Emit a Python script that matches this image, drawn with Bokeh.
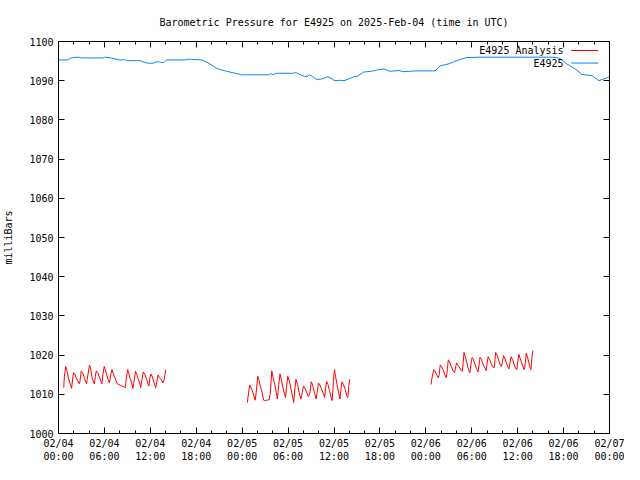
from datetime import datetime, timedelta

from bokeh.plotting import figure
from bokeh.models import (Range1d, FixedTicker, DatetimeTickFormatter, DatetimeAxis,
                          LinearAxis, Label, Arrow, CustomJSTickFormatter)
from bokeh.embed import file_html
from bokeh.resources import INLINE

# ---------------- data ----------------
TITLE = "Barometric Pressure for E4925 on 2025-Feb-04 (time in UTC)"
Y_LABEL = "milliBars"
START = datetime(2025, 2, 4, 0, 0)
END = datetime(2025, 2, 7, 0, 0)
SERIES_NAMES = ["E4925 Analysis", "E4925"]
Y_TICKS = [1000, 1010, 1020, 1030, 1040, 1050, 1060, 1070, 1080, 1090, 1100]

# Station series (hours after START, millibars)
station_hours = [0.0, 1.3, 1.45, 2.0, 2.6,
                 3.0, 5.8, 6.0, 6.9, 7.5,
                 7.9, 8.5, 8.6, 8.9, 10.7,
                 11.2, 11.9, 12.4, 12.8, 13.2,
                 13.5, 13.8, 14.1, 16.5, 17.0,
                 17.7, 18.6, 19.0, 19.4, 20.0,
                 20.6, 21.2, 21.8, 22.4, 23.1,
                 23.9, 27.5, 27.7, 28.0, 28.4,
                 30.7, 31.0, 31.5, 32.1, 32.5,
                 32.8, 33.2, 33.7, 34.3, 34.8,
                 35.2, 35.6, 36.1, 36.8, 37.3,
                 38.0, 38.6, 39.0, 39.9, 41.2,
                 41.8, 42.5, 43.3, 44.5, 45.0,
                 45.9, 46.7, 49.2, 49.9, 51.0,
                 51.6, 52.3, 53.3, 55.2, 64.6,
                 65.5, 66.4, 67.6, 68.4, 69.7,
                 70.6, 71.5, 72.0]
station_mb = [1095.3, 1095.3, 1095.7, 1095.9, 1096.0,
              1095.8, 1095.8, 1096.0, 1095.8, 1095.5,
              1095.3, 1095.3, 1095.5, 1095.1, 1095.1,
              1094.7, 1094.4, 1094.5, 1094.8, 1094.8,
              1094.6, 1094.7, 1095.3, 1095.3, 1095.5,
              1095.4, 1095.3, 1095.1, 1094.7, 1094.0,
              1093.2, 1092.8, 1092.5, 1092.2, 1091.9,
              1091.5, 1091.5, 1091.9, 1091.5, 1091.9,
              1091.9, 1092.1, 1091.6, 1091.1, 1091.1,
              1091.5, 1091.1, 1090.3, 1090.4, 1090.7,
              1091.0, 1090.6, 1090.0, 1090.1, 1090.0,
              1090.5, 1091.0, 1091.1, 1092.2, 1092.5,
              1092.8, 1093.0, 1092.4, 1092.6, 1092.3,
              1092.4, 1092.5, 1092.5, 1093.8, 1094.3,
              1094.8, 1095.3, 1095.9, 1096.0, 1096.0,
              1095.7, 1094.3, 1092.9, 1091.6, 1091.3,
              1090.0, 1090.6, 1091.0]

# Analysis series, three runs (hours after START, millibars)
analysis1_hours = [0.68, 0.77, 0.94, 1.07, 1.28,
                   1.49, 1.62, 1.71, 1.79, 1.96,
                   2.13, 2.34, 2.56, 2.73, 2.81,
                   2.98, 3.20, 3.41, 3.67, 3.75,
                   4.05, 4.18, 4.39, 4.60, 4.69,
                   4.82, 4.94, 5.12, 5.46, 5.67,
                   5.80, 5.97, 6.10, 6.31, 6.48,
                   6.65, 6.82, 6.99, 7.16, 7.46,
                   7.67, 8.10, 8.53, 8.74, 8.87,
                   9.04, 9.16, 9.38, 9.59, 9.72,
                   9.89, 10.06, 10.23, 10.44, 10.66,
                   10.74, 10.91, 11.08, 11.30, 11.51,
                   11.72, 11.81, 11.94, 12.06, 12.28,
                   12.49, 12.70, 12.87, 13.00, 13.21,
                   13.43, 13.64, 13.81, 13.90, 14.02]
analysis1_mb = [1011.7, 1014.6, 1017.1, 1016.3, 1014.2,
                1012.9, 1012.1, 1011.5, 1012.9, 1015.5,
                1015.2, 1014.0, 1013.2, 1012.7, 1013.4,
                1015.9, 1015.2, 1014.0, 1012.7, 1013.8,
                1017.5, 1016.7, 1014.2, 1012.9, 1012.7,
                1014.6, 1016.0, 1015.5, 1013.8, 1012.7,
                1015.0, 1017.1, 1016.3, 1014.9, 1013.8,
                1012.9, 1015.0, 1016.3, 1015.2, 1013.8,
                1012.7, 1012.3, 1011.9, 1011.7, 1014.2,
                1016.3, 1015.5, 1014.0, 1012.7, 1011.5,
                1013.4, 1015.9, 1015.0, 1013.8, 1012.5,
                1011.7, 1013.8, 1015.7, 1015.0, 1013.8,
                1012.5, 1012.1, 1014.2, 1015.2, 1014.4,
                1012.9, 1011.7, 1013.4, 1014.9, 1014.2,
                1013.8, 1012.9, 1013.8, 1014.9, 1016.3]

analysis2_hours = [24.68, 24.76, 24.98, 25.10, 25.32,
                   25.53, 25.70, 25.83, 26.04, 26.17,
                   26.38, 26.60, 26.81, 26.89, 27.53,
                   27.66, 27.87, 28.04, 28.26, 28.47,
                   28.60, 28.73, 28.94, 29.11, 29.32,
                   29.54, 29.66, 29.79, 29.96, 30.18,
                   30.39, 30.60, 30.73, 30.86, 31.03,
                   31.24, 31.45, 31.67, 31.80, 32.01,
                   32.22, 32.44, 32.65, 32.86, 33.03,
                   33.20, 33.50, 33.67, 33.80, 33.97,
                   34.14, 34.35, 34.57, 34.78, 34.91,
                   35.04, 35.21, 35.42, 35.63, 35.76,
                   35.93, 36.06, 36.19, 36.40, 36.61,
                   36.78, 36.91, 37.04, 37.21, 37.46,
                   37.68, 37.81, 37.93, 38.06]
analysis2_mb = [1007.9, 1009.2, 1012.4, 1011.9, 1010.9,
                1009.6, 1008.5, 1010.4, 1014.6, 1013.8,
                1012.1, 1010.4, 1008.5, 1008.4, 1008.6,
                1010.0, 1016.0, 1014.2, 1012.5, 1010.4,
                1008.8, 1011.3, 1015.2, 1013.8, 1011.8,
                1010.0, 1009.2, 1011.7, 1014.6, 1013.3,
                1011.3, 1009.2, 1007.9, 1010.9, 1013.8,
                1012.5, 1010.4, 1008.8, 1010.0, 1012.1,
                1011.5, 1010.4, 1009.4, 1010.4, 1013.2,
                1012.4, 1010.0, 1008.8, 1010.4, 1012.9,
                1012.4, 1011.5, 1010.4, 1009.2, 1011.7,
                1013.3, 1012.5, 1010.9, 1009.2, 1008.4,
                1013.3, 1016.3, 1014.6, 1012.5, 1010.4,
                1008.8, 1011.3, 1013.2, 1012.5, 1011.3,
                1009.6, 1009.2, 1012.1, 1013.8]

analysis3_hours = [48.68, 48.77, 49.02, 49.19, 49.41,
                   49.62, 49.75, 49.88, 50.05, 50.26,
                   50.47, 50.69, 50.81, 50.94, 51.11,
                   51.33, 51.58, 51.75, 51.88, 52.01,
                   52.22, 52.43, 52.65, 52.77, 52.90,
                   52.99, 53.16, 53.37, 53.58, 53.75,
                   53.88, 54.05, 54.22, 54.44, 54.65,
                   54.82, 54.95, 55.08, 55.29, 55.50,
                   55.72, 55.89, 56.01, 56.14, 56.36,
                   56.57, 56.78, 56.91, 57.04, 57.12,
                   57.29, 57.51, 57.72, 57.89, 58.02,
                   58.15, 58.32, 58.53, 58.74, 58.87,
                   59.00, 59.13, 59.34, 59.55, 59.77,
                   59.89, 60.02, 60.15, 60.32, 60.53,
                   60.75, 60.87, 61.00, 61.13, 61.30,
                   61.47, 61.64, 61.73, 61.85, 61.98]
analysis3_mb = [1012.5, 1013.8, 1016.3, 1015.9, 1015.0,
                1014.2, 1015.0, 1017.5, 1017.1, 1016.3,
                1015.0, 1014.2, 1016.3, 1018.8, 1018.2,
                1017.1, 1015.9, 1015.5, 1016.7, 1018.0,
                1017.4, 1016.7, 1016.0, 1015.9, 1018.4,
                1020.7, 1019.6, 1018.0, 1016.3, 1015.5,
                1017.5, 1019.4, 1018.8, 1017.5, 1016.5,
                1015.7, 1017.5, 1019.4, 1018.8, 1017.5,
                1016.7, 1016.0, 1018.0, 1019.6, 1018.8,
                1017.7, 1016.9, 1016.7, 1018.8, 1020.7,
                1020.1, 1018.8, 1017.5, 1017.1, 1018.4,
                1019.9, 1019.2, 1018.0, 1016.9, 1016.5,
                1018.0, 1019.6, 1018.8, 1017.5, 1016.5,
                1016.3, 1018.4, 1020.2, 1019.2, 1018.0,
                1016.7, 1016.3, 1018.0, 1020.5, 1019.4,
                1018.0, 1016.7, 1016.3, 1019.2, 1021.1]

ANALYSIS_COLOR = "#ff0000"
STATION_COLOR = "#0a88f0"
FONT = "DejaVu Sans Mono"
FS = "10px"

# -------------- build --------------
def to_time(hours):
    return [START + timedelta(hours=h) for h in hours]

# join runs with gaps (NaN breaks the line)
a_hours, a_mb = [], []
for hh, vv in [(analysis1_hours, analysis1_mb), (analysis2_hours, analysis2_mb),
               (analysis3_hours, analysis3_mb)]:
    assert len(hh) == len(vv)
    if a_hours:
        a_hours.append(hh[0] - 0.01)
        a_mb.append(float("nan"))
    a_hours += hh
    a_mb += vv
assert len(station_hours) == len(station_mb)

p = figure(width=624, height=464, x_axis_type="datetime",
           output_backend="svg", toolbar_location=None,
           x_range=Range1d(START, END), y_range=Range1d(1000, 1100),
           min_border_left=58, min_border_right=15,
           min_border_top=41, min_border_bottom=28)

p.line(to_time(a_hours), a_mb, line_color=ANALYSIS_COLOR, line_width=1)
p.line(to_time(station_hours), station_mb, line_color=STATION_COLOR, line_width=1)

p.title.text = TITLE
p.title.text_font = FONT
p.title.text_font_size = FS
p.title.text_font_style = "normal"
p.title.text_color = "black"
p.title.align = "center"
p.title.standoff = 28

total_h = int((END - START).total_seconds() // 3600)
major = [START + timedelta(hours=h) for h in range(0, total_h + 1, 6)]
minor = [START + timedelta(hours=h) for h in range(0, total_h + 1, 2)]
to_ms = lambda d: (d - datetime(1970, 1, 1)).total_seconds() * 1000.0
x_ticker = FixedTicker(ticks=[to_ms(d) for d in major], minor_ticks=[to_ms(d) for d in minor])
y_ticker = FixedTicker(ticks=Y_TICKS, minor_ticks=[])

fmt = "%m/%d\n%H:%M"
formatter = DatetimeTickFormatter(milliseconds=fmt, seconds=fmt, minsec=fmt, minutes=fmt,
                                  hourmin=fmt, hours=fmt, days=fmt, months=fmt, years=fmt)
blank = CustomJSTickFormatter(code="return ''")

def style(ax):
    ax.major_tick_in = 6
    ax.major_tick_out = 0
    ax.minor_tick_in = 3
    ax.minor_tick_out = 0
    ax.axis_line_color = "black"
    ax.major_tick_line_color = "black"
    ax.minor_tick_line_color = "black"
    ax.major_label_text_font = FONT
    ax.major_label_text_font_size = FS
    ax.major_label_text_color = "black"

xa = p.xaxis[0]
xa.ticker = x_ticker
xa.formatter = formatter
style(xa)
xa.major_label_standoff = 4

ya = p.yaxis[0]
ya.ticker = y_ticker
style(ya)
ya.major_label_standoff = 5
ya.axis_label = Y_LABEL
ya.axis_label_text_font = FONT
ya.axis_label_text_font_size = FS
ya.axis_label_text_font_style = "normal"
ya.axis_label_text_color = "black"
ya.axis_label_standoff = 12

top = DatetimeAxis(ticker=x_ticker, formatter=blank)
style(top)
top.major_label_standoff = 0
p.add_layout(top, "above")

right = LinearAxis(ticker=y_ticker, formatter=blank)
style(right)
right.major_label_standoff = 0
p.add_layout(right, "right")

p.xgrid.visible = False
p.ygrid.visible = False
p.outline_line_color = "black"
p.outline_line_alpha = 1.0
p.background_fill_color = "white"
p.border_fill_color = "white"

# gnuplot-style key: text on the left, sample line on the right (top-right corner)
key_text_x = END - timedelta(hours=6.0)
key_line_x0 = END - timedelta(hours=5.0)
key_line_x1 = END - timedelta(hours=1.45)
for name, color, ky in [(SERIES_NAMES[0], ANALYSIS_COLOR, 1097.7),
                        (SERIES_NAMES[1], STATION_COLOR, 1094.5)]:
    p.add_layout(Label(x=to_ms(key_text_x), y=ky, text=name, text_align="right",
                       text_baseline="middle", text_font=FONT, text_font_size=FS,
                       text_color="black"))
    p.add_layout(Arrow(start=None, end=None, x_start=to_ms(key_line_x0), y_start=ky,
                       x_end=to_ms(key_line_x1), y_end=ky, line_color=color, line_width=1))

open("out.html", "w").write(file_html(p, INLINE))
